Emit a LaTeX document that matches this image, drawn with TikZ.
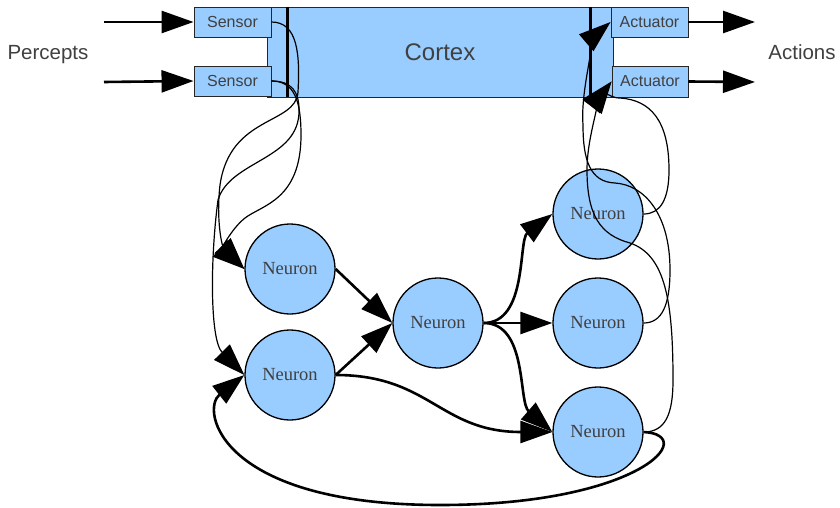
\documentclass[tikz,border=0pt]{standalone}
\usepackage{fontspec}
\setmainfont{Liberation Serif}
\setsansfont{Liberation Sans}
\usepackage{tikz}
\usetikzlibrary{arrows.meta}
\definecolor{cellblue}{RGB}{153,204,255}
\definecolor{inkgray}{RGB}{64,64,64}
\tikzset{>={Triangle[length=32pt,width=22pt]}}
\tikzset{box/.style={draw=black!85, fill=cellblue, line width=0.9pt, inner sep=0pt,
    text=inkgray, font=\sffamily\fontsize{16}{16}\selectfont}}
\tikzset{neuron/.style={circle, draw, line width=1.3pt, fill=cellblue, inner sep=0pt,
    minimum size=90pt, text=inkgray, font=\fontsize{18.5}{18.5}\selectfont}}
\tikzset{wire/.style={->, line width=2.6pt}}
\tikzset{lead/.style={->, line width=1.2pt}}
\tikzset{bar/.style={line width=3pt}}
\tikzset{side/.style={anchor=base, text=inkgray, font=\sffamily\fontsize{20.5}{20.5}\selectfont}}

\begin{document}
\begin{tikzpicture}[x=1pt,y=-1pt]
  \useasboundingbox (0,0) rectangle (840,508);
  % cortex with sensors and actuators
  \node[box, minimum width=346pt, minimum height=90pt,
    font=\sffamily\fontsize{24}{24}\selectfont] (cortex) at (440,52) {Cortex};
  \node[box, minimum width=77pt, minimum height=30pt] (s1) at (232.5,22) {Sensor};
  \node[box, minimum width=77pt, minimum height=30pt] (s2) at (232.5,81) {Sensor};
  \node[box, minimum width=77pt, minimum height=30pt] (a1) at (649.5,22) {Actuator};
  \node[box, minimum width=76pt, minimum height=31pt] (a2) at (650,81.5) {Actuator};
  \draw[bar] (287,7) -- (287,97);
  \draw[bar] (590,7) -- (590,97);

  \node[side] (percepts) at (48,59.5) {Percepts};
  \node[side] (actions) at (802,59.5) {Actions};
  \coordinate (in1) at (104,22);
  \coordinate (in2) at (104,82);
  \coordinate (out1) at (755,22);
  \coordinate (out2) at (755,82);
  \draw[wire] (in1) -- (s1.west);
  \draw[wire] (in2) -- (s2.west);
  \draw[wire] (a1.east) -- (out1);
  \draw[wire] (a2.east) -- (out2);

  % the network
  \node[neuron] (n1) at (290,269) {Neuron};
  \node[neuron] (n2) at (290,375) {Neuron};
  \node[neuron] (n3) at (438,323) {Neuron};
  \node[neuron] (n4) at (598,214) {Neuron};
  \node[neuron] (n5) at (598,323) {Neuron};
  \node[neuron] (n6) at (598,432) {Neuron};

  \draw[wire] (n1.east) -- (n3.west);
  \draw[wire] (n2.east) -- (n3.west);
  \draw[wire] (n2.east) .. controls (430,375) and (440,432) .. (n6.west);
  \draw[wire] (n3.east) .. controls (528,323) and (518,240) .. (n4.west);
  \draw[wire] (n3.east) -- (n5.west);
  \draw[wire] (n3.east) .. controls (528,323) and (518,402) .. (n6.west);
  % feedback loop underneath
  \draw[wire] (n6.east) .. controls (700,435) and (640,505) .. (440,505)
    .. controls (220,505) and (200,410) .. (n2.west);

  % sensors into the first layer
  \draw[lead] (s1.east) .. controls (298,22) and (300,55) .. (298,92)
    .. controls (296,125) and (230,115) .. (220,185)
    .. controls (216,220) and (222,245) .. (n1.west);
  \draw[lead] (s2.east) .. controls (292,81) and (299,92) .. (299,110)
    .. controls (300,160) and (230,160) .. (218,200)
    .. controls (210,260) and (210,340) .. (n2.west);
  \draw[lead] (s2.east) .. controls (294,81) and (301,100) .. (301,135)
    .. controls (301,200) and (262,205) .. (245,218)
    .. controls (230,230) and (222,250) .. (n1.west);

  % last layer back to the actuators
  \draw[lead] (n4.east) .. controls (660,214) and (669,200) .. (669,170)
    .. controls (669,120) and (650,100) .. (620,98)
    .. controls (605,98) and (609,85) .. (a2.west);
  \draw[lead] (n5.east) .. controls (662,323) and (670,305) .. (670,270)
    .. controls (670,215) and (645,185) .. (615,183)
    .. controls (590,182) and (583,160) .. (583,125)
    .. controls (580,85) and (600,31) .. (a1.west);
  \draw[lead] (n6.east) .. controls (665,432) and (673,415) .. (673,380)
    .. controls (673,300) and (665,255) .. (630,243)
    .. controls (600,235) and (587,215) .. (587,170)
    .. controls (587,130) and (607,87) .. (a2.west);
\end{tikzpicture}
\end{document}
